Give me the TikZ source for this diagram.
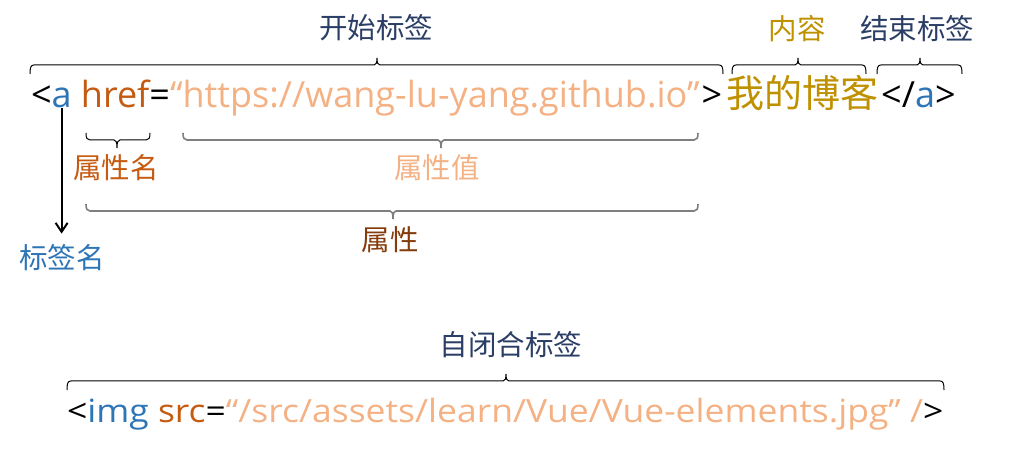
\documentclass[tikz,border=0pt]{standalone}
\usepackage{fontspec}
\setmainfont{Open Sans}
\newfontfamily\cjk{Noto Sans CJK SC}
\usetikzlibrary{arrows.meta}
\definecolor{navy}{HTML}{2B3E66}
\definecolor{tagblue}{HTML}{2E75B6}
\definecolor{attrname}{HTML}{C55A11}
\definecolor{attrval}{HTML}{F4B183}
\definecolor{contentc}{HTML}{BF9000}
\definecolor{attrc}{HTML}{843C0C}
\definecolor{bracegray}{HTML}{7F7F7F}
% brace with tip up: #2=x1, #3=x2, #4=xtip, #5=y of line
\newcommand\upbrace[5][]{%
  \draw[line width=1pt,#1] (#2,#5-9) .. controls (#2,#5-2) and (#2+1,#5) .. (#2+4,#5) -- (#4-3,#5)
    .. controls (#4-1,#5) and (#4,#5+2) .. (#4,#5+7)
    .. controls (#4,#5+2) and (#4+1,#5) .. (#4+3,#5) -- (#3-4,#5)
    .. controls (#3-1,#5) and (#3,#5-2) .. (#3,#5-9);}
% brace with tip down
\newcommand\downbrace[5][]{%
  \draw[line width=1pt,#1] (#2,#5+7) .. controls (#2,#5+2) and (#2+1,#5) .. (#2+4,#5) -- (#4-3,#5)
    .. controls (#4-1,#5) and (#4,#5-2) .. (#4,#5-8)
    .. controls (#4,#5-2) and (#4+1,#5) .. (#4+3,#5) -- (#3-4,#5)
    .. controls (#3-1,#5) and (#3,#5+2) .. (#3,#5+7);}
\tikzset{
  codeA/.style={inner sep=0pt, outer sep=0pt, anchor=base west, font=\fontsize{36}{40}\selectfont},
  codeB/.style={inner sep=0pt, outer sep=0pt, anchor=base west, font=\fontsize{32}{36}\selectfont},
  lbl/.style={inner sep=0pt, font=\cjk\fontsize{28.5}{31}\selectfont},
}
\newcommand\wide[1]{\scalebox{1.11}[1]{#1}}
\begin{document}
\begin{tikzpicture}[x=1pt,y=1pt]
\useasboundingbox (0,0) rectangle (1009,457);
% top code line
\node[codeA] (lt) at (31,349) {<};
\node[codeA,text=tagblue] (ta) at (lt.base east) {a};
\node[codeA,text=attrname] (hr) at (ta.base east) {\ href};
\node[codeA] (eq) at (hr.base east) {=};
\node[codeA,text=attrval] (url) at (eq.base east) {“https://wang-lu-yang.github.io”};
\node[codeA] (gt) at ([xshift=2pt]url.base east) {>};
\node[codeA,text=contentc,font=\cjk\fontsize{38}{42}\selectfont] (ct) at ([xshift=4pt]gt.base east) {我的博客};
\node[codeA] (cl1) at ([xshift=3pt]ct.base east) {</};
\node[codeA,text=tagblue] (ca) at (cl1.base east) {a};
\node[codeA] (cl2) at (ca.base east) {>};
% labels
\node[lbl,text=navy] (l1) at (376,429) {开始标签};
\node[lbl,text=contentc] (l2) at (797,428) {内容};
\node[lbl,text=navy] (l3) at (917,428) {结束标签};
\node[lbl,text=attrname] (l4) at (116,289) {属性名};
\node[lbl,text=attrval] (l5) at (437,289) {属性值};
\node[lbl,text=attrc] (l6) at (390,217) {属性};
\node[lbl,text=tagblue] (l7) at (62,199) {标签名};
\node[lbl,text=navy] (l8) at (511,112) {自闭合标签};
% braces
\upbrace{30}{723}{377}{392}
\upbrace{732}{866}{798}{392}
\upbrace{877}{962}{920}{392}
\downbrace{86}{150}{117}{317}
\downbrace[bracegray,line width=1.6pt]{183}{698}{441}{317}
\downbrace[bracegray,line width=1.6pt]{86}{698}{393}{246}
\upbrace{67}{944}{506}{76}
% arrow
\draw[line width=2pt,shorten >=11pt,-{Straight Barb[length=9pt,width=12pt]}] (ta.south) -- (ta.south |- l7.north);
% bottom code line
\node[codeB] (b1) at (67,34) {\wide{<}};
\node[codeB,text=tagblue] (b2) at (b1.base east) {\wide{img}};
\node[codeB,text=attrname] (b3) at (b2.base east) {\wide{\ src}};
\node[codeB] (b4) at (b3.base east) {\wide{=}};
\node[codeB,text=attrval] (b5) at (b4.base east) {\wide{“/src/assets/learn/Vue/Vue-elements.jpg”\ /}};
\node[codeB] (b6) at (b5.base east) {\wide{>}};
\end{tikzpicture}
\end{document}
